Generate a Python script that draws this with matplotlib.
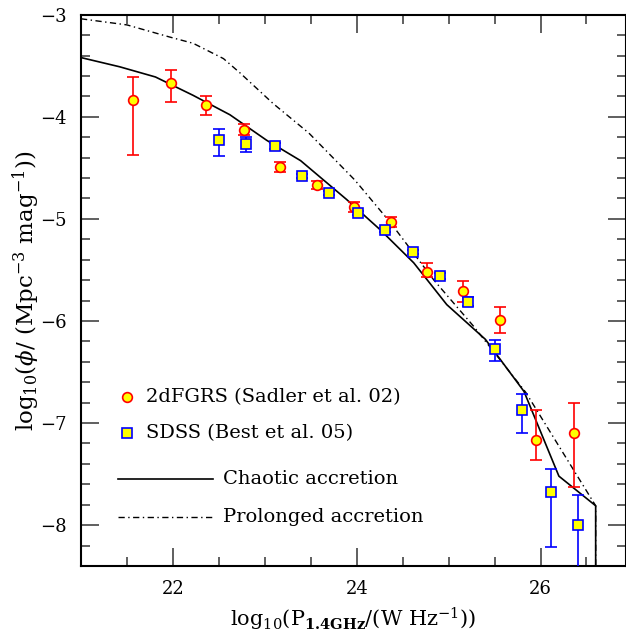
import numpy as np
import matplotlib
matplotlib.use('Agg')
import matplotlib.pyplot as plt
from matplotlib.ticker import MultipleLocator

plt.rcParams['font.family'] = 'DejaVu Serif'
plt.rcParams['mathtext.fontset'] = 'dejavuserif'

# 2dFGRS (Sadler et al. 02)
sad_x = [21.57, 21.98, 22.36, 22.77, 23.17, 23.57, 23.97, 24.37, 24.77, 25.16, 25.56, 25.95, 26.36]
sad_y = [-3.84, -3.67, -3.88, -4.13, -4.49, -4.67, -4.88, -5.03, -5.52, -5.71, -5.99, -7.17, -7.10]
sad_up = [0.23, 0.13, 0.08, 0.06, 0.05, 0.04, 0.05, 0.05, 0.09, 0.10, 0.13, 0.30, 0.30]
sad_dn = [0.53, 0.19, 0.10, 0.05, 0.05, 0.04, 0.05, 0.05, 0.05, 0.10, 0.13, 0.19, 0.53]

# SDSS (Best et al. 05)
best_x = [22.50, 22.80, 23.11, 23.41, 23.70, 24.01, 24.31, 24.61, 24.91, 25.21, 25.51, 25.80, 26.11, 26.41]
best_y = [-4.23, -4.27, -4.29, -4.58, -4.75, -4.94, -5.11, -5.32, -5.56, -5.81, -6.27, -6.87, -7.68, -8.00]
best_up = [0.11, 0.07, 0.03, 0.02, 0.02, 0.02, 0.02, 0.02, 0.03, 0.04, 0.08, 0.15, 0.23, 0.30]
best_dn = [0.15, 0.07, 0.03, 0.02, 0.02, 0.02, 0.02, 0.02, 0.03, 0.04, 0.12, 0.23, 0.53, 0.60]

# model curves
chaotic_x = [21.0, 21.42, 21.81, 22.22, 22.62, 23.02, 23.39, 23.89, 24.26, 24.62, 24.98, 25.40, 25.82, 26.20, 26.60, 26.60]
chaotic_y = [-3.42, -3.51, -3.61, -3.79, -3.98, -4.23, -4.43, -4.81, -5.11, -5.43, -5.84, -6.18, -6.69, -7.52, -7.81, -8.6]
prolonged_x = [21.0, 21.5, 21.97, 22.22, 22.55, 22.73, 23.09, 23.48, 23.98, 24.37, 24.84, 25.27, 25.56, 25.84, 26.60, 26.60]
prolonged_y = [-3.04, -3.10, -3.22, -3.28, -3.43, -3.57, -3.87, -4.16, -4.62, -5.04, -5.60, -6.05, -6.38, -6.70, -7.81, -8.6]

dashdot = (0, (4.5, 2.5, 1, 2.5))

fig = plt.figure(figsize=(6.26, 6.32), dpi=100)
ax = fig.add_axes([81 / 626, 66 / 632, 545 / 626, 551.3 / 632])

ax.plot(chaotic_x, chaotic_y, color='black', lw=1.2, linestyle='-')
ax.plot(prolonged_x, prolonged_y, color='black', lw=1.0, linestyle=dashdot)

ax.errorbar(sad_x, sad_y, yerr=[sad_dn, sad_up], fmt='o', ms=7, mfc='yellow', mec='red',
            mew=1.2, ecolor='red', elinewidth=1.2, capsize=4, capthick=1.2, zorder=3)
ax.errorbar(best_x, best_y, yerr=[best_dn, best_up], fmt='s', ms=6.5, mfc='yellow', mec='blue',
            mew=1.2, ecolor='blue', elinewidth=1.2, capsize=4, capthick=1.2, zorder=3)

ax.set_xlim(21, 26.93)
ax.set_ylim(-8.4, -3)
ax.xaxis.set_major_locator(MultipleLocator(2))
ax.xaxis.set_minor_locator(MultipleLocator(0.5))
ax.yaxis.set_major_locator(MultipleLocator(1))
ax.yaxis.set_minor_locator(MultipleLocator(0.2))
ax.tick_params(which='both', direction='in', top=True, right=True, color='#444444', width=1.2)
ax.tick_params(which='major', length=13, labelsize=13, pad=10)
ax.tick_params(which='minor', length=6.5)
for s in ax.spines.values():
    s.set_linewidth(1.5)

ax.set_xlabel(r'log$_{10}$(P$_{\mathbf{1.4GHz}}$/(W Hz$^{-1}$))', fontsize=15, labelpad=6)
ax.set_ylabel(r'log$_{10}$($\phi$/ (Mpc$^{-3}$ mag$^{-1}$))', fontsize=16.5, labelpad=-1)

# legend drawn by hand
tr = ax.transAxes
fs = 14
ax.plot([0.084], [0.3066], 'o', ms=7, mfc='yellow', mec='red', mew=1.2, transform=tr)
ax.text(0.119, 0.3066, '2dFGRS (Sadler et al. 02)', transform=tr, va='center', fontsize=fs)
ax.plot([0.084], [0.2407], 's', ms=6.5, mfc='yellow', mec='blue', mew=1.2, transform=tr)
ax.text(0.119, 0.2407, 'SDSS (Best et al. 05)', transform=tr, va='center', fontsize=fs)
ax.plot([0.068, 0.2417], [0.1573, 0.1573], color='black', lw=1.2, transform=tr)
ax.text(0.261, 0.1573, 'Chaotic accretion', transform=tr, va='center', fontsize=fs)
ax.plot([0.068, 0.2417], [0.0894, 0.0894], color='black', lw=1.0, linestyle=dashdot, transform=tr)
ax.text(0.261, 0.0894, 'Prolonged accretion', transform=tr, va='center', fontsize=fs)

fig.savefig('out.png', dpi=100)
